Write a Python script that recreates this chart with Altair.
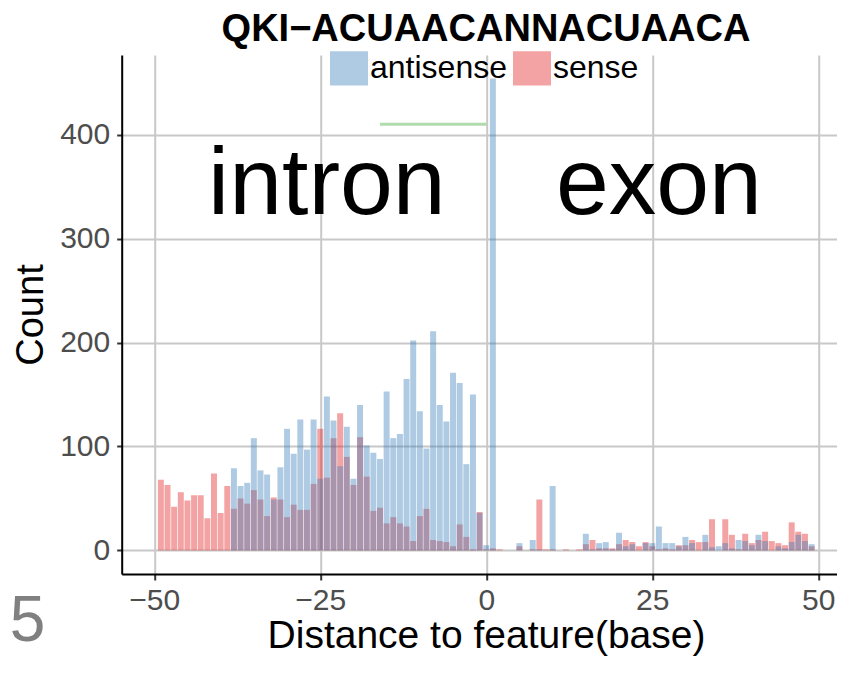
import altair as alt
import pandas as pd

# ---------------- data ----------------
positions = list(range(-49, 50))
antisense = [0, 0, 0, 0, 0, 0, 0, 0, 0, 0, 0,
             79, 62, 65, 108, 77, 73, 49, 80, 117, 93,
             126, 97, 126, 69, 148, 125, 81, 119, 69, 140,
             101, 94, 88, 153, 108, 112, 165, 202, 134, 98,
             211, 140, 124, 171, 161, 83, 150, 36,
             5, 454, 0, 0, 0, 7, 0, 10, 1, 0,
             62, 0, 0, 0, 0, 16, 1, 7, 8, 1,
             17, 4, 6, 0, 7, 7, 23, 7, 7, 4,
             13, 7, 0, 15, 3, 4, 7, 2, 10, 9,
             5, 15, 9, 0, 4, 2, 8, 15, 9, 6]
sense = [68, 63, 42, 56, 48, 53, 53, 31, 74, 36, 62,
         40, 50, 45, 58, 49, 33, 51, 49, 32, 44,
         39, 39, 64, 117, 70, 108, 132, 90, 63, 109,
         71, 38, 41, 26, 32, 26, 23, 9, 33, 40,
         10, 9, 8, 4, 25, 13, 1, 37,
         1, 2, 1, 0, 0, 4, 0, 1, 49, 1,
         1, 0, 1, 0, 1, 6, 10, 2, 2, 2,
         6, 10, 8, 4, 8, 4, 1, 2, 1, 5,
         5, 10, 8, 8, 30, 0, 30, 15, 1, 16,
         7, 10, 18, 9, 7, 5, 27, 18, 16, 4]
strands = ["antisense", "sense"]
strand_colors = ["#377EB8", "#E41A1C"]

region_labels = ["intron", "exon"]
region_x = [-24, 26]
region_y = [324, 324]

seg_x = [-16]
seg_x2 = [0]
seg_y = [410]

x_ticks = [-50, -25, 0, 25, 50]
y_ticks = [0, 100, 200, 300, 400]
title_text = "QKI\u2212ACUAACANNACUAACA"
panel_tag = "5"

# ---------------- tables ----------------
rows = []
for p, c in zip(positions, sense):
    if c > 0:
        rows.append({"pos": p, "count": c, "strand": "sense"})
for p, c in zip(positions, antisense):
    if c > 0:
        rows.append({"pos": p, "count": c, "strand": "antisense"})
df = pd.DataFrame(rows)
df_regions = pd.DataFrame({"label": region_labels, "x": region_x, "y": region_y})
df_seg = pd.DataFrame({"x": seg_x, "x2": seg_x2, "y": seg_y})

FONT = "Liberation Sans"
W, H = 715, 519
xscale = alt.Scale(domain=[-54.9, 52.78], nice=False, zero=False)
yscale = alt.Scale(domain=[-22.7, 476.7], nice=False, zero=False)

xaxis = alt.Axis(
    values=x_ticks, grid=True, gridColor="#C8C8C8", gridWidth=2,
    domainColor="black", domainWidth=2, tickColor="#333333", tickWidth=2, tickSize=6,
    labelFont=FONT, labelFontSize=30, labelColor="#4D4D4D", labelPadding=5,
    labelFlush=False, labelOverlap=False,
    title="Distance to feature(base)", titleFont=FONT, titleFontSize=39,
    titleFontWeight="normal", titleColor="black",
    titleX=364.3, titleY=73, titleBaseline="alphabetic", titleAlign="center",
)
yaxis = alt.Axis(
    values=y_ticks, grid=True, gridColor="#C8C8C8", gridWidth=2,
    domainColor="black", domainWidth=2, tickColor="#333333", tickWidth=2, tickSize=5,
    labelFont=FONT, labelFontSize=30, labelColor="#4D4D4D", labelPadding=7,
    labelFlush=False, labelOverlap=False,
    title="Count", titleFont=FONT, titleFontSize=38, titleFontWeight="normal",
    titleColor="black", titleAngle=270, titleX=-79.7, titleY=259.5,
    titleBaseline="alphabetic", titleAlign="center",
)

bars = alt.Chart(df).transform_calculate(
    x0="datum.pos - 0.45", x1="datum.pos + 0.45", base="0"
).mark_bar(opacity=0.4, strokeWidth=0).encode(
    x=alt.X("x0:Q", scale=xscale, axis=xaxis),
    x2="x1:Q",
    y=alt.Y("count:Q", scale=yscale, axis=yaxis, stack=None),
    y2="base:Q",
    color=alt.Color(
        "strand:N",
        scale=alt.Scale(domain=strands, range=strand_colors),
        legend=alt.Legend(
            title=None, orient="none", legendX=208.3, legendY=-6,
            direction="horizontal", symbolType="M-1,-0.9H1V0.9H-1Z",
            symbolSize=1444, symbolOpacity=0.4, symbolStrokeWidth=0,
            labelFont=FONT, labelFontSize=32, labelColor="black",
            labelOffset=2, columnPadding=6, padding=0,
        ),
    ),
)

seg = alt.Chart(df_seg).mark_rule(color="#4DAF4A", opacity=0.45, strokeWidth=3).encode(
    x=alt.X("x:Q", scale=xscale),
    x2="x2:Q",
    y=alt.Y("y:Q", scale=yscale),
)

regions = alt.Chart(df_regions).mark_text(
    font=FONT, fontSize=95, color="black",
    align="center", baseline="alphabetic",
).encode(
    x=alt.X("x:Q", scale=xscale),
    y=alt.Y("y:Q", scale=yscale),
    text="label:N",
)

tag = alt.Chart(pd.DataFrame({"t": [panel_tag]})).mark_text(
    font=FONT, fontSize=64, color="#808080", align="left", baseline="alphabetic",
).encode(
    x=alt.value(-112), y=alt.value(586), text="t:N",
)

title = alt.Chart(pd.DataFrame({"t": [title_text]})).mark_text(
    font=FONT, fontSize=38, fontWeight="bold", color="black",
    align="center", baseline="alphabetic",
).encode(
    x=alt.value(364.3), y=alt.value(-14), text="t:N",
)

chart = alt.layer(bars, seg, regions, tag, title).properties(
    width=W, height=H,
    padding={"left": 113.7, "top": 47, "right": 0.3, "bottom": 82},
    autosize=alt.AutoSizeParams(type="none"),
).configure_view(strokeWidth=0)

chart.save("out.html", embed_options={"renderer": "svg", "actions": False})
